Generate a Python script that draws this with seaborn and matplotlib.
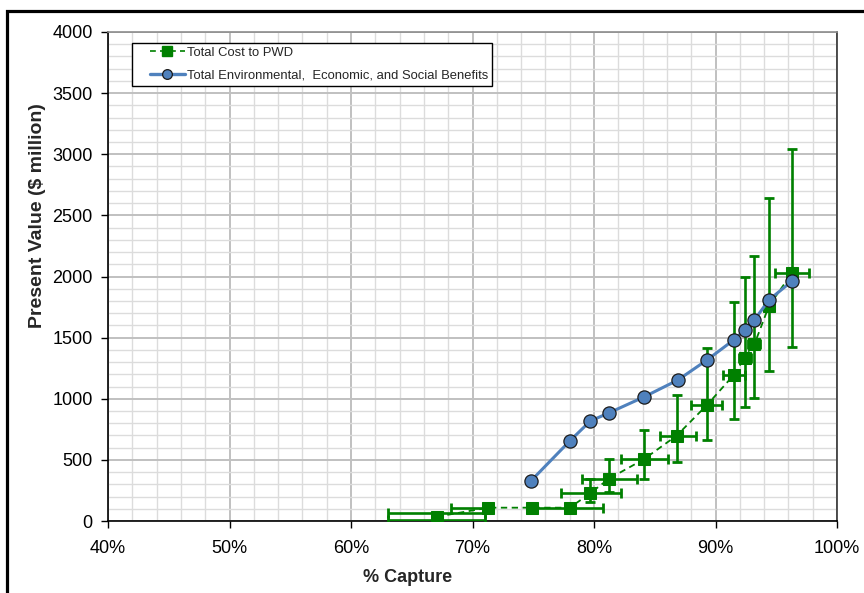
import numpy as np
import pandas as pd
import seaborn as sns
import matplotlib
matplotlib.use("Agg")
import matplotlib.pyplot as plt
from matplotlib.lines import Line2D
from matplotlib.patches import Rectangle
from matplotlib.legend_handler import HandlerLine2D
from matplotlib.ticker import MultipleLocator, PercentFormatter

# ---- data ----
capture_cost = [67.05, 67.05, 71.3, 74.9, 78.0, 79.7, 81.2, 84.1, 86.8, 89.3, 91.5, 92.4, 93.2, 94.4, 96.3]
cost = [5, 65, 109, 109, 109, 227, 344, 505, 698, 949, 1194, 1336, 1445, 1759, 2030]
cost_low = [5, 65, 109, 109, 109, 158, 240, 344, 485, 663, 832, 930, 1009, 1227, 1421]
cost_high = [5, 65, 109, 109, 109, 344, 507, 744, 1031, 1418, 1789, 1999, 2168, 2640, 3043]
capture_low = [63.05, 63.05, 68.2, 74.9, 75.3, 77.3, 79.0, 82.2, 85.4, 88.0, 90.6, 91.9, 92.7, 94.1, 94.9]
capture_high = [71.05, 71.05, 71.3, 74.9, 80.7, 82.2, 83.5, 86.1, 88.4, 90.5, 92.4, 92.9, 93.7, 94.7, 97.7]

capture_ben = [74.8, 78.0, 79.7, 81.2, 84.1, 86.9, 89.3, 91.5, 92.4, 93.2, 94.4, 96.3]
benefit = [327, 654, 818, 883, 1014, 1153, 1317, 1481, 1562, 1644, 1808, 1963]

series_cost = "Total Cost to PWD"
series_ben = "Total Environmental,  Economic, and Social Benefits"
x_label = "% Capture"
y_label = "Present Value ($ million)"

GREEN = "#008000"
BLUE = "#4F81BD"

sns.set_theme(style="white")
plt.rcParams["font.family"] = ["Liberation Sans", "DejaVu Sans"]

W, H = 864, 593
fig = plt.figure(figsize=(W / 100, H / 100), dpi=100)
ax = fig.add_axes([108 / W, 1 - 521 / H, (837 - 108) / W, (521 - 32) / H])

df_cost = pd.DataFrame({"x": capture_cost, "y": cost})
df_ben = pd.DataFrame({"x": capture_ben, "y": benefit})

# error bars
xc = np.array(capture_cost); yc = np.array(cost)
yerr = np.vstack([yc - np.array(cost_low), np.array(cost_high) - yc])
xerr = np.vstack([xc - np.array(capture_low), np.array(capture_high) - xc])
ax.errorbar(xc, yc, yerr=yerr, xerr=xerr, fmt="none", ecolor=GREEN,
            elinewidth=1.9, capsize=3.5, capthick=2.0, zorder=3)

sns.lineplot(data=df_cost, x="x", y="y", sort=False, ax=ax, color=GREEN,
             linestyle=(0, (3.5, 2.5)), linewidth=1.3, marker="s", markersize=8.5,
             markerfacecolor=GREEN, markeredgecolor=GREEN, zorder=4, legend=False)
sns.lineplot(data=df_ben, x="x", y="y", sort=False, ax=ax, color=BLUE,
             linewidth=2.2, marker="o", markersize=9.5, markerfacecolor=BLUE,
             markeredgecolor="#1a1a1a", markeredgewidth=0.9, zorder=5, legend=False)

ax.set_xlim(40, 100)
ax.set_ylim(0, 4000)
ax.xaxis.set_major_locator(MultipleLocator(10))
ax.xaxis.set_minor_locator(MultipleLocator(2))
ax.yaxis.set_major_locator(MultipleLocator(500))
ax.yaxis.set_minor_locator(MultipleLocator(100))
ax.xaxis.set_major_formatter(PercentFormatter(decimals=0))

ax.grid(which="major", color="#C0C0C0", linewidth=1.4, zorder=0)
ax.grid(which="minor", color="#DCDCDC", linewidth=1.0, zorder=0)
ax.set_axisbelow(True)

for s in ["left", "bottom"]:
    ax.spines[s].set_color("black")
    ax.spines[s].set_linewidth(1.2)
ax.spines["top"].set_color("#8C8C8C")
ax.spines["top"].set_linewidth(1.2)
ax.spines["right"].set_color("#333333")
ax.spines["right"].set_linewidth(1.2)

ax.tick_params(axis="both", which="major", direction="out", length=5, width=1,
               color="black", labelsize=13, labelcolor="black",
               left=True, bottom=True)
ax.tick_params(axis="y", which="major", pad=6)
ax.tick_params(axis="x", which="major", pad=9)
ax.tick_params(axis="both", which="minor", length=0)
ax.set_xlabel("")
ax.set_ylabel("")

fig.text(408 / W, 1 - 577 / H, x_label, ha="center", va="center",
         fontsize=13, fontweight="bold")
fig.text(38 / W, 1 - 216 / H, y_label, ha="center", va="center",
         rotation=90, fontsize=14, fontweight="bold")

handles = [
    Line2D([], [], color=GREEN, linestyle=(0, (3.5, 2.5)), linewidth=1.2,
           marker="s", markersize=6.5, markerfacecolor=GREEN, markeredgecolor=GREEN),
    Line2D([], [], color=BLUE, linewidth=2.4, marker="o", markersize=7,
           markerfacecolor=BLUE, markeredgecolor="#1a1a1a", markeredgewidth=0.9),
]
hmap = {h: HandlerLine2D(xpad=1.05) for h in handles}
leg = ax.legend(handles, [series_cost, series_ben], loc="upper left",
                bbox_to_anchor=(132 / W, 1 - 43 / H), bbox_transform=fig.transFigure,
                borderaxespad=0, frameon=True, fancybox=False, framealpha=1,
                edgecolor="black", fontsize=9.4, handlelength=3.75,
                handletextpad=0.15, borderpad=0.3, labelspacing=0.8,
                handler_map=hmap)
leg.get_frame().set_linewidth(1.0)
leg.set_zorder(10)

# outer chart border (thick black frame, right/bottom off-canvas)
fig.patches.append(Rectangle((6.7 / W, -0.2), 1.5, 1 - 10.7 / H + 0.2,
                             transform=fig.transFigure, fill=False,
                             edgecolor="black", linewidth=2.3, zorder=0))

fig.savefig("out.png", dpi=100)
